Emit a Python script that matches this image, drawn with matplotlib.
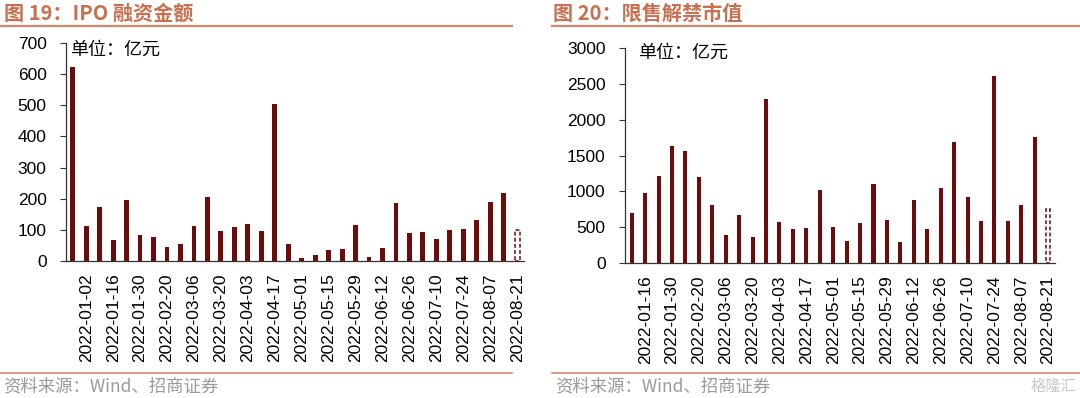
import matplotlib
matplotlib.use("Agg")
import matplotlib.pyplot as plt
from matplotlib.lines import Line2D

plt.rcParams['font.family'] = ['Liberation Sans', 'Noto Sans CJK SC', 'DejaVu Sans']

# weekly dates (Spring Festival week 2022-02-06 missing)
ipo_dates = ['2021-12-26', '2022-01-02', '2022-01-09', '2022-01-16', '2022-01-23', '2022-01-30',
             '2022-02-13', '2022-02-20', '2022-02-27', '2022-03-06', '2022-03-13', '2022-03-20',
             '2022-03-27', '2022-04-03', '2022-04-10', '2022-04-17', '2022-04-24', '2022-05-01',
             '2022-05-08', '2022-05-15', '2022-05-22', '2022-05-29', '2022-06-05', '2022-06-12',
             '2022-06-19', '2022-06-26', '2022-07-03', '2022-07-10', '2022-07-17', '2022-07-24',
             '2022-07-31', '2022-08-07', '2022-08-14', '2022-08-21']
ipo_amount = [622, 111, 175, 67, 195, 84, 77, 46, 55, 111, 206, 97, 109, 118, 95, 504, 54,
              11, 18, 34, 39, 117, 13, 42, 185, 89, 92, 71, 101, 104, 132, 189, 218, 99]

unlock_dates = ipo_dates[2:]
unlock_value = [701, 978, 1218, 1629, 1565, 1204, 803, 388, 665, 360, 2294, 572, 475, 489,
                1015, 498, 305, 554, 1108, 595, 300, 886, 480, 1052, 1689, 918, 586, 2607,
                586, 812, 1758, 748]

BAR = '#6E0B0B'
TITLE = '#C8704F'
LINE = '#D9876A'

fig = plt.figure(figsize=(10.8, 3.98), dpi=100)

W, H = 1080, 398


def fx(px):
    return px / W


def fy(py):
    return 1 - py / H


def draw_panel(ax, dates, values, ymax, ystep, width):
    x = list(range(len(values)))
    # last week is not finished yet -> dashed outline bar
    ax.bar(x[:-1], values[:-1], width=width, color=BAR)
    ax.bar(x[-1], values[-1], width=width, facecolor='white', edgecolor=BAR,
           linestyle=(0, (2.5, 1.5)), linewidth=1.1)
    ax.set_xlim(-0.5, len(values) - 0.5)
    ax.set_ylim(0, ymax)
    ax.set_yticks(range(0, ymax + 1, ystep))
    ax.set_xticks(x[1::2])
    ax.set_xticklabels(dates[1::2], rotation=90, fontsize=12.5)
    ax.tick_params(axis='x', length=0, pad=9)
    ax.tick_params(axis='y', length=4, width=0.8, labelsize=12.5, pad=10, color='#333333')
    for s in ['top', 'right']:
        ax.spines[s].set_visible(False)
    for s in ['left', 'bottom']:
        ax.spines[s].set_color('#333333')
        ax.spines[s].set_linewidth(0.9)


ax1 = fig.add_axes([0.0611, 0.3442, 0.424, 0.5477])
draw_panel(ax1, ipo_dates, ipo_amount, 700, 100, 0.36)

ax2 = fig.add_axes([0.5787, 0.3392, 0.398, 0.540])
draw_panel(ax2, unlock_dates, unlock_value, 3000, 500, 0.3)

# titles, unit notes, rules and source lines
fig.text(fx(4), fy(13), '图 19：IPO 融资金额', fontsize=14.5, fontweight='bold',
         color=TITLE, va='center', family=['Noto Sans CJK SC'])
fig.text(fx(553), fy(13), '图 20：限售解禁市值', fontsize=14.5, fontweight='bold',
         color=TITLE, va='center', family=['Noto Sans CJK SC'])
fig.text(fx(70), fy(50), '单位：亿元', fontsize=13, va='center', family=['Noto Sans CJK SC'])
fig.text(fx(638), fy(53), '单位：亿元', fontsize=13, va='center', family=['Noto Sans CJK SC'])

for x0, x1 in [(0, 512), (552, 1080)]:
    fig.add_artist(Line2D([fx(x0), fx(x1)], [fy(26), fy(26)], color=LINE, linewidth=1.6))
    fig.add_artist(Line2D([fx(x0), fx(x1)], [fy(373), fy(373)], color=LINE, linewidth=1.2))

fig.text(fx(3), fy(386), '资料来源：Wind、招商证券', fontsize=12.5, color='#9A9A9A',
         va='center', family=['Noto Sans CJK SC'])
fig.text(fx(555), fy(386), '资料来源：Wind、招商证券', fontsize=12.5, color='#9A9A9A',
         va='center', family=['Noto Sans CJK SC'])
fig.text(fx(1076), fy(386), '格隆汇', fontsize=11, color='#C8C8C8', va='center', ha='right',
         family=['Noto Sans CJK SC'])

fig.savefig('out.png', dpi=100)
